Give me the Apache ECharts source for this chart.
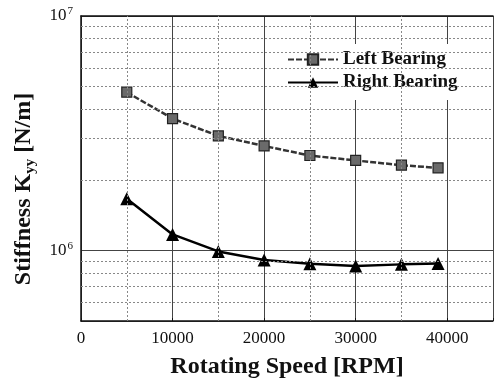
<!DOCTYPE html>
<html>
<head>
<meta charset="utf-8">
<script src="https://cdn.jsdelivr.net/npm/echarts@6/dist/echarts.min.js"></script>
<style>html,body{margin:0;padding:0;background:#fff}#c{width:496px;height:384px}</style>
</head>
<body>
<div id="c"></div>
<script>
const speeds = [5000, 10000, 15000, 20000, 25000, 30000, 35000, 39000];
const leftBearing = [4.73e6, 3.65e6, 3.08e6, 2.79e6, 2.54e6, 2.42e6, 2.31e6, 2.25e6];
const rightBearing = [1.66e6, 1.17e6, 0.99e6, 0.91e6, 0.878e6, 0.858e6, 0.872e6, 0.88e6];
const xTickLabels = ['0', '10000', '20000', '30000', '40000'];
const yMinorLines = [6e5, 7e5, 8e5, 9e5, 2e6, 3e6, 4e6, 5e6, 6e6, 7e6, 8e6, 9e6];
const xMinorLines = [5000, 15000, 25000, 35000];

const serif = '"Liberation Serif", "Times New Roman", serif';
const chart = echarts.init(document.getElementById('c'));

const minorStyle = { color: '#888', width: 1, type: [2, 2] };
chart.setOption({
  animation: false,
  backgroundColor: '#fff',
  grid: { left: 81, right: 0, top: 16, bottom: 61 },
  legend: {
    orient: 'vertical',
    left: 278, top: 44,
    padding: [6, 22, 8, 9],
    backgroundColor: '#fff',
    itemWidth: 50, itemHeight: 13, itemGap: 4,
    textStyle: { fontFamily: serif, fontWeight: 'bold', fontSize: 19, color: '#111' },
    data: ['Left Bearing', 'Right Bearing']
  },
  xAxis: [{
    type: 'value', min: 0, max: 45000, interval: 10000,
    axisLine: { show: true, lineStyle: { color: '#111', width: 1.5 } },
    axisTick: { show: true, inside: true, length: 3, lineStyle: { color: '#111' } },
    axisLabel: {
      fontFamily: serif, fontSize: 17, color: '#111', margin: 9,
      formatter: v => { const i = Math.round(v / 10000); return (v % 10000 === 0 && i < xTickLabels.length) ? xTickLabels[i] : ''; }
    },
    splitLine: { show: true, lineStyle: { color: '#444', width: 1 } },
    name: 'Rotating Speed [RPM]', nameLocation: 'middle', nameGap: 34,
    nameTextStyle: { fontFamily: serif, fontWeight: 'bold', fontSize: 24, color: '#111' }
  }, {
    type: 'value', position: 'top', min: 0, max: 45000, interval: 10000,
    axisLine: { show: true, lineStyle: { color: '#111', width: 1.5 } },
    axisTick: { show: false }, axisLabel: { show: false }, splitLine: { show: false }
  }],
  yAxis: {
    type: 'log', logBase: 10, min: 5e5, max: 1e7,
    axisLine: { show: true, lineStyle: { color: '#111', width: 1.5 } },
    axisTick: { show: false },
    axisLabel: {
      fontFamily: serif, fontSize: 17, color: '#111', margin: 8,
      formatter: v => {
        const e = Math.log10(v);
        if (Math.abs(e - Math.round(e)) < 1e-6) return '10{sup|' + Math.round(e) + '}';
        return '';
      },
      rich: { sup: { fontFamily: serif, fontSize: 11, verticalAlign: 'top', padding: [0, 0, 9, 1], color: '#111' } }
    },
    splitLine: { show: true, lineStyle: { color: '#444', width: 1 } }
  },
  graphic: [{
    type: 'text', rotation: Math.PI / 2,
    x: 24, y: 189,
    style: {
      text: 'Stiffness K{sub|yy} [N/m]',
      fontFamily: serif, fontWeight: 'bold', fontSize: 24, fill: '#111',
      align: 'center', verticalAlign: 'middle',
      rich: { sub: { fontFamily: serif, fontWeight: 'bold', fontSize: 15, fill: '#111', padding: [12, 0, 0, 0] } }
    }
  }],
  series: [{
    name: 'Left Bearing', type: 'line',
    data: speeds.map((s, i) => [s, leftBearing[i]]),
    symbol: 'rect', symbolSize: 10,
    lineStyle: { color: '#333', width: 2.5, type: [6, 2] },
    itemStyle: { color: '#6a6a6a', borderColor: '#222', borderWidth: 1.2 },
    markLine: {
      silent: true, symbol: 'none', label: { show: false },
      lineStyle: minorStyle,
      data: yMinorLines.map(v => ({ yAxis: v })).concat(xMinorLines.map(v => ({ xAxis: v })))
    },
    z: 3
  }, {
    name: 'Right Bearing', type: 'line',
    data: speeds.map((s, i) => [s, rightBearing[i]]),
    symbol: 'triangle', symbolSize: 13,
    lineStyle: { color: '#000', width: 2.5 },
    itemStyle: { color: '#000' },
    z: 3
  }]
});
</script>
</body>
</html>
